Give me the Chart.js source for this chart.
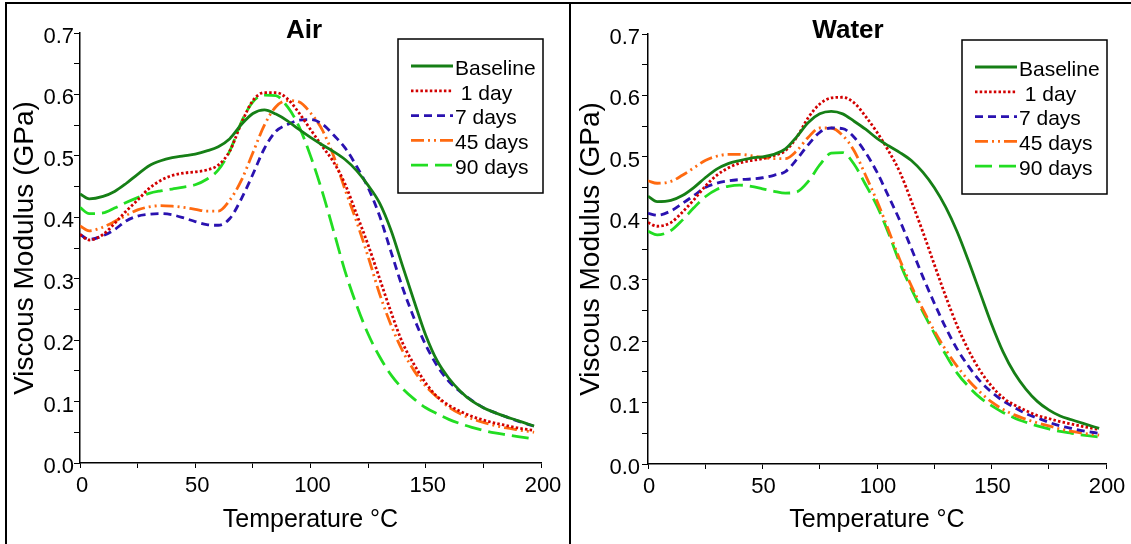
<!DOCTYPE html>
<html>
<head>
<meta charset="utf-8">
<title>Viscous Modulus - Air / Water</title>
<script src="https://cdn.jsdelivr.net/npm/chart.js"></script>
<style>
    body { margin: 0; background: #fff; }
    #wrap { position: relative; width: 1131px; height: 544px; overflow: hidden; }
    canvas { position: absolute; top: 0; }
    #frame { position: absolute; left: 5px; top: 2px; width: 1140px; height: 560px;
             border-top: 2px solid #000; border-left: 2px solid #000; }
    #divider { position: absolute; left: 569px; top: 2px; width: 2px; height: 542px; background: #000; }
</style>
</head>
<body>
<div id="wrap">
    <canvas id="chartAir" width="570" height="544" style="left:0"></canvas>
    <canvas id="chartWater" width="561" height="544" style="left:570px"></canvas>
    <div id="frame"></div>
    <div id="divider"></div>
</div>

<script>
// Temperature points (°C) shared by all curves
var temperatures = [0, 4, 10, 15, 20, 25, 30, 35, 40, 45, 50, 55, 60, 65, 70, 75, 80, 85, 90, 95,
                    100, 105, 110, 115, 120, 125, 130, 135, 140, 145, 150, 155, 160, 165, 170, 175, 180, 185, 190, 197];

var seriesLabels = ['Baseline', ' 1 day', '7 days', '45 days', '90 days'];

// Air - viscous modulus (GPa)
var airBaseline = [0.438, 0.430, 0.434, 0.442, 0.455, 0.470, 0.484, 0.492, 0.497, 0.500, 0.503, 0.508, 0.515, 0.528, 0.551, 0.569, 0.575, 0.568, 0.557, 0.543,
                   0.530, 0.518, 0.507, 0.494, 0.476, 0.452, 0.423, 0.378, 0.320, 0.263, 0.208, 0.166, 0.138, 0.117, 0.101, 0.090, 0.082, 0.075, 0.069, 0.060];
var air1day     = [0.372, 0.363, 0.372, 0.390, 0.410, 0.428, 0.447, 0.460, 0.468, 0.472, 0.474, 0.477, 0.485, 0.508, 0.553, 0.590, 0.603, 0.603, 0.593, 0.570,
                   0.543, 0.516, 0.490, 0.454, 0.405, 0.355, 0.300, 0.245, 0.195, 0.160, 0.130, 0.108, 0.094, 0.084, 0.076, 0.070, 0.065, 0.061, 0.057, 0.053];
var air7days    = [0.372, 0.364, 0.370, 0.380, 0.394, 0.402, 0.405, 0.406, 0.404, 0.399, 0.393, 0.388, 0.387, 0.398, 0.430, 0.470, 0.512, 0.540, 0.551, 0.558,
                   0.559, 0.552, 0.534, 0.513, 0.483, 0.448, 0.402, 0.343, 0.285, 0.235, 0.192, 0.158, 0.133, 0.116, 0.102, 0.090, 0.082, 0.075, 0.068, 0.060];
var air45days   = [0.386, 0.378, 0.384, 0.393, 0.403, 0.412, 0.417, 0.419, 0.418, 0.416, 0.413, 0.410, 0.410, 0.428, 0.460, 0.505, 0.550, 0.580, 0.590, 0.588,
                   0.570, 0.543, 0.500, 0.445, 0.393, 0.336, 0.275, 0.224, 0.182, 0.150, 0.125, 0.107, 0.091, 0.080, 0.072, 0.066, 0.061, 0.057, 0.054, 0.050];
var air90days   = [0.416, 0.406, 0.407, 0.415, 0.424, 0.432, 0.439, 0.443, 0.446, 0.449, 0.453, 0.462, 0.477, 0.508, 0.555, 0.588, 0.599, 0.598, 0.580, 0.548,
                   0.500, 0.443, 0.378, 0.312, 0.257, 0.210, 0.173, 0.143, 0.121, 0.104, 0.090, 0.080, 0.071, 0.064, 0.058, 0.053, 0.049, 0.046, 0.043, 0.039];

// Water - viscous modulus (GPa)
var waterBaseline = [0.436, 0.427, 0.429, 0.437, 0.450, 0.466, 0.480, 0.489, 0.494, 0.498, 0.500, 0.504, 0.513, 0.533, 0.556, 0.570, 0.574, 0.570, 0.558, 0.545,
                     0.530, 0.518, 0.507, 0.494, 0.475, 0.450, 0.418, 0.378, 0.330, 0.279, 0.228, 0.183, 0.148, 0.122, 0.102, 0.088, 0.078, 0.072, 0.066, 0.058];
var water1day     = [0.393, 0.387, 0.393, 0.410, 0.430, 0.452, 0.470, 0.482, 0.490, 0.494, 0.497, 0.502, 0.510, 0.532, 0.564, 0.586, 0.596, 0.597, 0.588, 0.566,
                     0.540, 0.510, 0.475, 0.428, 0.378, 0.325, 0.273, 0.225, 0.185, 0.152, 0.127, 0.108, 0.096, 0.087, 0.079, 0.074, 0.069, 0.065, 0.061, 0.056];
var water7days    = [0.408, 0.405, 0.412, 0.424, 0.437, 0.450, 0.457, 0.461, 0.463, 0.464, 0.466, 0.470, 0.476, 0.496, 0.520, 0.540, 0.547, 0.546, 0.532, 0.507,
                     0.475, 0.436, 0.396, 0.351, 0.305, 0.262, 0.222, 0.187, 0.159, 0.135, 0.117, 0.103, 0.092, 0.082, 0.075, 0.068, 0.062, 0.058, 0.054, 0.050];
var water45days   = [0.461, 0.457, 0.460, 0.470, 0.482, 0.494, 0.501, 0.504, 0.504, 0.502, 0.499, 0.497, 0.497, 0.510, 0.532, 0.547, 0.547, 0.535, 0.510, 0.470,
                     0.428, 0.381, 0.332, 0.290, 0.252, 0.217, 0.186, 0.159, 0.136, 0.117, 0.101, 0.089, 0.080, 0.073, 0.067, 0.062, 0.057, 0.053, 0.050, 0.047];
var water90days   = [0.379, 0.373, 0.380, 0.397, 0.417, 0.435, 0.447, 0.452, 0.454, 0.452, 0.448, 0.444, 0.441, 0.443, 0.460, 0.487, 0.506, 0.507, 0.488, 0.455,
                     0.420, 0.376, 0.327, 0.285, 0.248, 0.213, 0.178, 0.148, 0.126, 0.108, 0.095, 0.084, 0.075, 0.068, 0.062, 0.057, 0.053, 0.050, 0.047, 0.044];

var lineColors = ['#167f16', '#d20000', '#2a12b0', '#ff6a10', '#22dd22'];
var lineDashes = [[], [2.5, 2.2], [8, 5], [13, 4, 2, 4, 2, 4], [17, 7]];

var fontFamily = '"Liberation Sans", Arial, sans-serif';

document.addEventListener('DOMContentLoaded', function() {
    Chart.defaults.font.family = fontFamily;
    Chart.defaults.color = '#000';

    // title drawn inside the plot area (like the original figure)
    var panelTitle = {
        id: 'panelTitle',
        afterDraw: function(chart, args, opts) {
            var ctx = chart.ctx;
            ctx.save();
            ctx.font = 'bold 26px ' + fontFamily;
            ctx.fillStyle = '#000';
            ctx.textAlign = 'center';
            ctx.textBaseline = 'middle';
            ctx.fillText(opts.text, opts.x, opts.y);
            ctx.restore();
        }
    };

    // boxed legend in the top right corner
    var boxLegend = {
        id: 'boxLegend',
        afterDatasetsDraw: function(chart, args, opts) {
            var ctx = chart.ctx;
            var area = chart.chartArea;
            var w = 145, h = 154;
            var x0 = area.right + opts.dx - w;
            var y0 = area.top + opts.dy;
            ctx.save();
            ctx.fillStyle = '#fff';
            ctx.fillRect(x0, y0, w, h);
            ctx.strokeStyle = '#000';
            ctx.lineWidth = 1.5;
            ctx.strokeRect(x0, y0, w, h);
            chart.data.datasets.forEach(function(ds, i) {
                var y = y0 + 30 + i * 24.8;
                ctx.beginPath();
                ctx.setLineDash(ds.borderDash);
                ctx.strokeStyle = ds.borderColor;
                ctx.lineWidth = ds.borderWidth;
                ctx.moveTo(x0 + 13, y - 3);
                ctx.lineTo(x0 + 55, y - 3);
                ctx.stroke();
                ctx.setLineDash([]);
                ctx.fillStyle = '#000';
                ctx.font = '21px ' + fontFamily;
                ctx.textBaseline = 'middle';
                ctx.textAlign = 'left';
                ctx.fillText(ds.label, x0 + 57, y);
            });
            ctx.restore();
        }
    };

    function makeDatasets(series) {
        return series.map(function(values, i) {
            return {
                label: seriesLabels[i],
                data: temperatures.map(function(t, k) { return { x: t, y: values[k] }; }),
                borderColor: lineColors[i],
                borderDash: lineDashes[i],
                borderWidth: 2.8,
                borderCapStyle: 'butt',
                pointRadius: 0,
                fill: false,
                cubicInterpolationMode: 'monotone'
            };
        });
    }

    function makeChart(canvasId, title, series, lay) {
        var ctx = document.getElementById(canvasId).getContext('2d');
        return new Chart(ctx, {
            type: 'line',
            data: { datasets: makeDatasets(series) },
            plugins: [panelTitle, boxLegend],
            options: {
                responsive: false,
                animation: false,
                layout: { padding: { left: 0, right: lay.right, top: lay.top, bottom: 0 } },
                plugins: {
                    legend: { display: false },
                    tooltip: { enabled: false },
                    panelTitle: { text: title, x: lay.titleX, y: 31 },
                    boxLegend: { dx: lay.legendDx, dy: 6 }
                },
                scales: {
                    x: {
                        type: 'linear',
                        min: 0,
                        max: 200,
                        afterFit: function(scale) { scale.height = lay.bottom; },
                        ticks: {
                            stepSize: 25,
                            autoSkip: false,
                            maxRotation: 0,
                            padding: 5,
                            labelOffset: lay.xLabelOffset,
                            font: { size: 22 },
                            callback: function(v) { return v % 50 === 0 ? String(v) : ''; }
                        },
                        grid: { display: true, drawOnChartArea: false, drawTicks: true, tickLength: 5, color: '#000', lineWidth: 1 },
                        border: { display: true, color: '#000', width: 1.5 },
                        title: { display: true, text: 'Temperature °C', font: { size: 25 }, padding: { top: 0, bottom: 9 } }
                    },
                    y: {
                        min: 0,
                        max: 0.7,
                        afterFit: function(scale) { scale.width = lay.left; },
                        ticks: {
                            stepSize: 0.05,
                            autoSkip: false,
                            padding: lay.yTickPad,
                            labelOffset: 4,
                            font: { size: 22 },
                            callback: function(v) {
                                var k = Math.round(v * 100);
                                return k % 10 === 0 ? (k / 100).toFixed(1) : '';
                            }
                        },
                        grid: { display: true, drawOnChartArea: false, drawTicks: true, tickLength: 6, color: '#000', lineWidth: 1 },
                        border: { display: true, color: '#000', width: 1.5 },
                        title: { display: true, text: 'Viscous Modulus (GPa)', font: { size: 28 }, padding: { top: lay.yTitlePad, bottom: 0 } }
                    }
                }
            }
        });
    }

    makeChart('chartAir', 'Air',
        [airBaseline, air1day, air7days, air45days, air90days],
        { left: 80, right: 29, top: 33, bottom: 81, yTickPad: 0, yTitlePad: 8, titleX: 304, legendDx: 2, xLabelOffset: 2 });

    makeChart('chartWater', 'Water',
        [waterBaseline, water1day, water7days, water45days, water90days],
        { left: 78, right: 25, top: 34, bottom: 80, yTickPad: 2, yTitlePad: 4, titleX: 278, legendDx: 1, xLabelOffset: 1 });
});
</script>
</body>
</html>
